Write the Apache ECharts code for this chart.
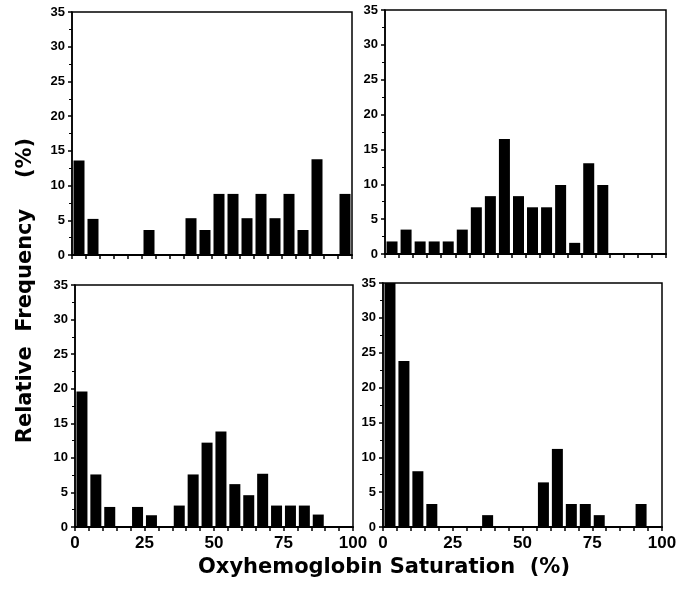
<!DOCTYPE html>
<html><head><meta charset="utf-8">
<script src="https://cdn.jsdelivr.net/npm/echarts@6/dist/echarts.min.js"></script>
<style>html,body{margin:0;padding:0;background:#fff}#c{width:699px;height:593px}</style>
</head><body><div id="c"></div>
<script>
// bin centres (5 % wide bins, 0–100 % saturation)
const binCenters = [2.5, 7.5, 12.5, 17.5, 22.5, 27.5, 32.5, 37.5, 42.5, 47.5,
                    52.5, 57.5, 62.5, 67.5, 72.5, 77.5, 82.5, 87.5, 92.5, 97.5];
// relative frequency (%) per bin, one array per panel
const topLeftFreq     = [13.6, 5.2, 0, 0, 0, 3.6, 0, 0, 5.3, 3.6, 8.8, 8.8, 5.3, 8.8, 5.3, 8.8, 3.6, 13.8, 0, 8.8];
const topRightFreq    = [1.8, 3.5, 1.8, 1.8, 1.8, 3.5, 6.7, 8.3, 16.5, 8.3, 6.7, 6.7, 9.9, 1.6, 13.0, 9.9, 0, 0, 0, 0];
const bottomLeftFreq  = [19.6, 7.6, 2.9, 0, 2.9, 1.7, 0, 3.1, 7.6, 12.2, 13.8, 6.2, 4.6, 7.7, 3.1, 3.1, 3.1, 1.8, 0, 0];
const bottomRightFreq = [35, 23.8, 8.0, 3.3, 0, 0, 0, 1.7, 0, 0, 0, 6.4, 11.2, 3.3, 3.3, 1.7, 0, 0, 3.3, 0];
const xTickLabels = [0, 25, 50, 75, 100];
const yTickLabels = [0, 5, 10, 15, 20, 25, 30, 35];

const panels = [topLeftFreq, topRightFreq, bottomLeftFreq, bottomRightFreq];
const grids = [
  {left: 72,  top: 12,  width: 280, height: 243},
  {left: 385, top: 10,  width: 281, height: 244},
  {left: 75,  top: 285, width: 278, height: 242},
  {left: 383, top: 283, width: 279, height: 244}
].map(g => Object.assign(g, {show: true, borderColor: '#000', borderWidth: 1.5, backgroundColor: 'transparent'}));

const xAxes = grids.map((g, i) => ({
  type: 'value', gridIndex: i, min: 0, max: 100, interval: 5,
  axisLine: {show: true, onZero: false, lineStyle: {color: '#000', width: 2}},
  axisTick: {show: true, length: 4, lineStyle: {color: '#000', width: 1.5}},
  axisLabel: {
    show: i >= 2, color: '#000', fontSize: 17, fontWeight: 'bold',
    fontFamily: 'Liberation Sans, Arial, sans-serif', margin: 8,
    formatter: v => xTickLabels.includes(v) ? String(v) : ''
  },
  splitLine: {show: false}
}));
const yAxes = grids.map((g, i) => ({
  type: 'value', gridIndex: i, min: 0, max: 35, interval: 5,
  axisLine: {show: true, lineStyle: {color: '#000', width: 1.5}},
  axisTick: {show: true, length: 4, lineStyle: {color: '#000', width: 1.5}},
  minorTick: {show: true, splitNumber: 2, length: 3, lineStyle: {color: '#000', width: 1}},
  axisLabel: {
    color: '#000', fontSize: 13, fontWeight: 'bold', margin: 7,
    fontFamily: 'Liberation Sans, Arial, sans-serif',
    formatter: v => yTickLabels.includes(v) ? String(v) : ''
  },
  splitLine: {show: false}
}));
const series = panels.map((arr, i) => ({
  type: 'bar', xAxisIndex: i, yAxisIndex: i,
  data: binCenters.map((x, k) => [x, arr[k]]),
  barWidth: 11, itemStyle: {color: '#000'}, silent: true, animation: false
}));

const chart = echarts.init(document.getElementById('c'), null, {renderer: 'canvas'});
chart.setOption({
  backgroundColor: '#fff',
  animation: false,
  grid: grids, xAxis: xAxes, yAxis: yAxes, series: series,
  graphic: [
    {type: 'text', x: 384, y: 568,
     style: {text: 'Oxyhemoglobin Saturation  (%)', font: 'bold 21px "DejaVu Sans"', fill: '#000',
             textAlign: 'center', textVerticalAlign: 'middle'}},
    {type: 'text', x: 26, y: 326, rotation: Math.PI / 2,
     style: {text: 'Relative  Frequency', font: 'bold 21px "DejaVu Sans"', fill: '#000',
             textAlign: 'center', textVerticalAlign: 'middle'}},
    {type: 'text', x: 26, y: 158, rotation: Math.PI / 2,
     style: {text: '(%)', font: 'bold 21px "DejaVu Sans"', fill: '#000',
             textAlign: 'center', textVerticalAlign: 'middle'}}
  ]
});
</script></body></html>
